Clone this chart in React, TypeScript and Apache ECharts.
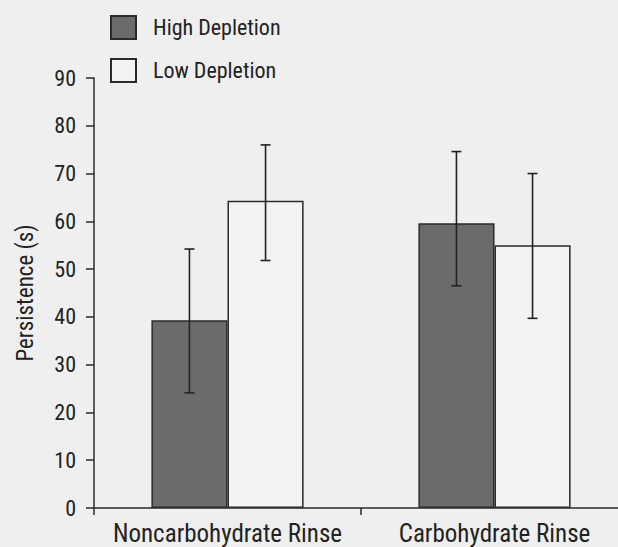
import React, { useEffect, useRef } from "react";
import * as echarts from "echarts";

const categories = ["Noncarbohydrate Rinse", "Carbohydrate Rinse"];
const seriesNames = ["High Depletion", "Low Depletion"];
const highMeans = [39.3, 59.6];
const lowMeans = [64.3, 55.0];
const highErrLow = [24.1, 46.5];
const highErrHigh = [54.2, 74.6];
const lowErrLow = [51.8, 39.7];
const lowErrHigh = [76.0, 70.0];
const yTicks = [0, 10, 20, 30, 40, 50, 60, 70, 80, 90];

const FONT = "'Liberation Sans Narrow', 'Arial Narrow', 'Roboto Condensed', 'Liberation Sans', sans-serif";
const BAR_FRACTION = 0.285;

export default function App() {
  const ref = useRef<HTMLDivElement>(null);
  useEffect(() => {
    if (!ref.current) return;
    const chart = echarts.init(ref.current, undefined, { renderer: "svg" });
    const errData: number[][] = [];
    categories.forEach((_, i) => {
      errData.push([i, highErrLow[i], highErrHigh[i], 0]);
      errData.push([i, lowErrLow[i], lowErrHigh[i], 1]);
    });
    chart.setOption({
      animation: false,
      backgroundColor: "#efefef",
      textStyle: { fontFamily: FONT, color: "#222" },
      legend: {
        orient: "vertical",
        left: 110,
        top: 15,
        padding: 0,
        icon: "rect",
        itemWidth: 25,
        itemHeight: 23,
        itemGap: 18,
        data: seriesNames,
        textStyle: { fontFamily: FONT, fontSize: 22, color: "#222", padding: [0, 0, 0, 12] },
      },
      grid: { left: 94, top: 78, right: 0, bottom: 39, containLabel: false },
      xAxis: {
        type: "category",
        data: categories,
        axisLine: { lineStyle: { color: "#2a2a2a", width: 1.5 } },
        axisTick: { show: true, length: 7, lineStyle: { color: "#2a2a2a", width: 1.5 } },
        axisLabel: { fontFamily: FONT, fontSize: 25, color: "#222", margin: 13, interval: 0 },
      },
      yAxis: {
        type: "value",
        min: yTicks[0],
        max: yTicks[yTicks.length - 1],
        interval: 10,
        name: "Persistence (s)",
        nameLocation: "middle",
        nameGap: 57,
        nameTextStyle: { fontFamily: FONT, fontSize: 23, color: "#222" },
        splitLine: { show: false },
        axisLine: { show: true, lineStyle: { color: "#2a2a2a", width: 1.5 } },
        axisTick: { show: true, length: 8, lineStyle: { color: "#2a2a2a", width: 1.5 } },
        axisLabel: { fontFamily: FONT, fontSize: 22, color: "#222", margin: 18 },
      },
      series: [
        {
          name: seriesNames[0],
          type: "bar",
          data: highMeans,
          barWidth: BAR_FRACTION * 100 + "%",
          barGap: "0%",
          itemStyle: { color: "#6b6b6b", borderColor: "#2a2a2a", borderWidth: 1.5 },
        },
        {
          name: seriesNames[1],
          type: "bar",
          data: lowMeans,
          barWidth: BAR_FRACTION * 100 + "%",
          barGap: "0%",
          itemStyle: { color: "#f3f3f3", borderColor: "#2a2a2a", borderWidth: 1.5 },
        },
        {
          type: "custom",
          data: errData,
          z: 10,
          renderItem: (params: any, api: any) => {
            const cat = api.value(0);
            const lo = api.value(1);
            const hi = api.value(2);
            const s = api.value(3);
            const band = api.size([1, 0])[0];
            const off = (s === 0 ? -0.5 : 0.5) * band * BAR_FRACTION;
            const pLo = api.coord([cat, lo]);
            const pHi = api.coord([cat, hi]);
            const x = pLo[0] + off;
            const cap = 5;
            const style = { stroke: "#222", lineWidth: 1.6 };
            return {
              type: "group",
              children: [
                { type: "line", shape: { x1: x, y1: pLo[1], x2: x, y2: pHi[1] }, style },
                { type: "line", shape: { x1: x - cap, y1: pLo[1], x2: x + cap, y2: pLo[1] }, style },
                { type: "line", shape: { x1: x - cap, y1: pHi[1], x2: x + cap, y2: pHi[1] }, style },
              ],
            };
          },
        },
      ],
    });
    return () => chart.dispose();
  }, []);
  return (
    <div
      ref={ref}
      style={{ position: "fixed", left: 0, top: 0, width: 628, height: 547 }}
    />
  );
}
